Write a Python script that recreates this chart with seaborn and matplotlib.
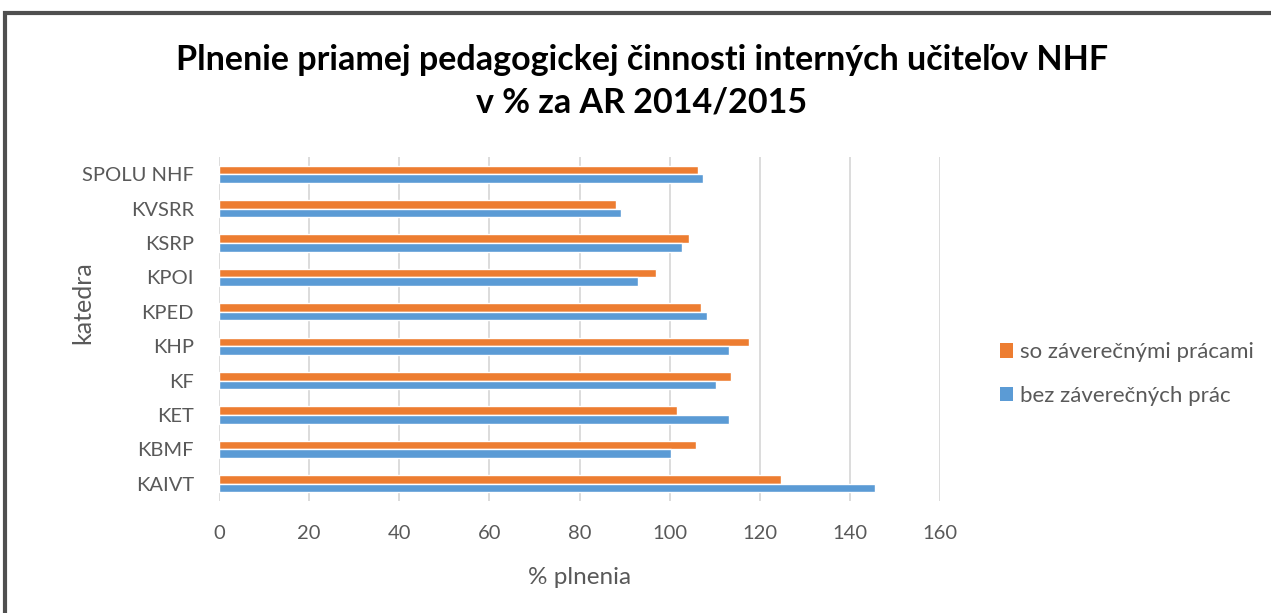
import matplotlib
matplotlib.use("Agg")
import matplotlib.pyplot as plt
import seaborn as sns
import pandas as pd
from matplotlib.patches import Rectangle, Patch

categories = ["SPOLU NHF", "KVSRR", "KSRP", "KPOI", "KPED", "KHP", "KF", "KET", "KBMF", "KAIVT"]
so_zaverecnymi = [106.3, 88.0, 104.2, 97.0, 107.0, 117.6, 113.7, 101.6, 105.9, 124.7]
bez_zaverecnych = [107.5, 89.2, 102.7, 93.0, 108.2, 113.2, 110.2, 113.2, 100.2, 145.6]
series_names = ["so záverečnými prácami", "bez záverečných prác"]
x_ticks = [0, 20, 40, 60, 80, 100, 120, 140, 160]

df = pd.DataFrame({
    "katedra": categories * 2,
    "hodnota": so_zaverecnymi + bez_zaverecnych,
    "seria": [series_names[0]] * len(categories) + [series_names[1]] * len(categories),
})

sns.set_theme(style="white")
plt.rcParams["font.family"] = ["Lato", "DejaVu Sans"]

colors = {series_names[0]: "#ED7D31", series_names[1]: "#5B9BD5"}
text_color = "#595959"

fig = plt.figure(figsize=(12.71, 6.13), dpi=100)
ax = fig.add_axes([219 / 1271, 1 - 501 / 613, (940 - 219) / 1271, (501 - 157) / 613])

sns.barplot(data=df, y="katedra", x="hodnota", hue="seria", order=categories,
            hue_order=series_names, palette=colors, width=0.5, orient="y",
            ax=ax, legend=False, saturation=1)

ax.set_xlim(0, 160)
ax.set_ylim(9.5, -0.5)
ax.set_xticks(x_ticks)
ax.set_xticklabels([str(t) for t in x_ticks])
ax.grid(axis="x", color="#D9D9D9", linewidth=1.3)
ax.grid(axis="y", visible=False)
ax.set_axisbelow(True)
for s in ax.spines.values():
    s.set_visible(False)
ax.tick_params(axis="both", length=0, labelsize=14.5, colors=text_color)
ax.tick_params(axis="x", pad=17)
ax.tick_params(axis="y", pad=18)
ax.set_xlabel("% plnenia", fontsize=17.5, color=text_color, labelpad=18)
ax.set_ylabel("katedra", fontsize=18, color=text_color)
ax.yaxis.set_label_coords((94 - 219) / 721, (501 - 303) / 344)

fig.text(642 / 1271, 1 - 81 / 613, "Plnenie priamej pedagogickej činnosti interných učiteľov NHF\nv % za AR 2014/2015",
         ha="center", va="center", fontsize=24.5, fontweight="bold", color="black", linespacing=1.4)

handles = [Patch(facecolor=colors[n], edgecolor="none") for n in series_names]
fig.legend(handles, series_names, loc="center left", bbox_to_anchor=(1000 / 1271, 1 - 374 / 613),
           frameon=False, fontsize=16, labelcolor=text_color, handlelength=0.6, handleheight=0.6,
           handletextpad=0.3, labelspacing=1.05, borderpad=0, borderaxespad=0)

fig.patches.append(Rectangle((4.5 / 1271, -0.1), 1.2, 1 - 13.5 / 613 + 0.1, transform=fig.transFigure,
                             fill=False, edgecolor="#4F4F4F", linewidth=3))

fig.savefig("out.png", dpi=100)
